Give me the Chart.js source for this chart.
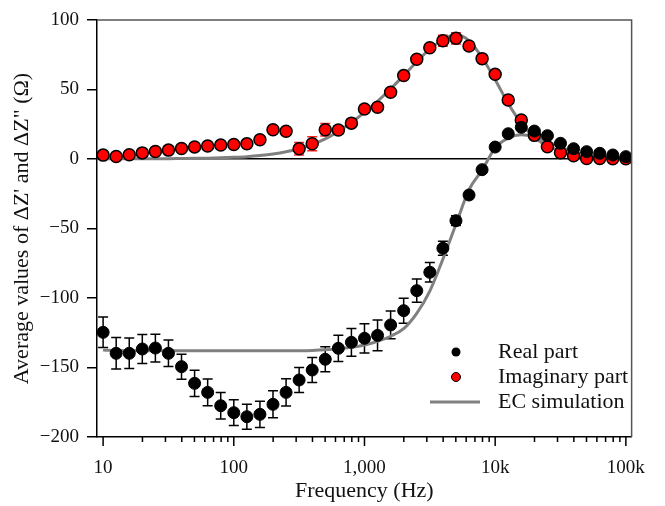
<!DOCTYPE html>
<html>
<head>
<meta charset="utf-8">
<script src="https://cdn.jsdelivr.net/npm/chart.js@4/dist/chart.umd.min.js"></script>
<style>
  html, body { margin: 0; padding: 0; background: #fff; }
  #wrap { width: 665px; height: 506px; }
</style>
</head>
<body>
<div id="wrap"><canvas id="chart" width="665" height="506"></canvas></div>
<script>
// frequencies (Hz), 10 points per decade
const freqs = [10, 12.59, 15.85, 19.95, 25.12, 31.62, 39.81, 50.12, 63.1, 79.43,
    100, 125.9, 158.5, 199.5, 251.2, 316.2, 398.1, 501.2, 631, 794.3,
    1000, 1259, 1585, 1995, 2512, 3162, 3981, 5012, 6310, 7943,
    10000, 12589, 15849, 19953, 25119, 31623, 39811, 50119, 63096, 79433, 100000];

const realVals = [-124.7, -139.8, -139.8, -136.7, -136, -139.8, -149.4, -161.4, -167.9, -177.5,
    -182.5, -185.4, -183.7, -176.5, -167.9, -159, -151.8, -144.1, -136.2, -131.9,
    -129, -126.9, -119.4, -109.1, -94.7, -81.5, -64.2, -44.4, -25.9, -7.7,
    8.6, 18.2, 22.8, 20.1, 16.8, 11.3, 7.4, 5.3, 4.1, 2.9, 1.7];
const realErr = [11, 11.3, 11, 10.5, 10, 9.5, 9, 9.5, 9.6, 9.5,
    9.3, 9, 9.5, 9.7, 9.8, 9, 9, 9, 9.4, 10,
    10.5, 11, 10, 9, 8.4, 7, 5, 3.5, 2, 1.5,
    1, 1, 1, 1, 1, 1, 1, 1, 1, 1, 1];

const imagVals = [2.8, 1.8, 3, 4.4, 5.4, 6.4, 7.5, 8.7, 9.3, 10,
    10.4, 10.9, 13.9, 21, 20, 7.4, 11, 21.1, 20.9, 25.8,
    36, 37.2, 48, 60, 71.7, 80, 85.1, 86.8, 81.3, 72.2,
    60.9, 42.4, 28, 17, 8.8, 4.5, 2.4, 0.4, 0.3, 0.2, 0.2];
const imagErr = [1.2, 1.2, 1.2, 1.2, 1.2, 1.2, 1.2, 1.2, 1.2, 1.2,
    1.2, 1.2, 1.5, 2.5, 2.5, 4.5, 5, 4.5, 3, 2,
    2, 2.5, 2, 1.5, 1.5, 2, 4, 4, 2.5, 1.5,
    1.5, 1.5, 1.5, 1.5, 1, 1, 1, 1, 1, 1, 1];

// EC simulation curves at the same frequencies
const simReal = [-137.5, -137.8, -138, -138, -138, -138, -138, -138, -138, -138,
    -138, -138, -138, -138, -138, -137.9, -137.7, -137.3, -136.6, -135.5,
    -133.8, -131.2, -127.5, -122, -111, -95, -72, -47, -22, -8,
    8, 15, 17.5, 16, 12.5, 8.5, 5.3, 3.2, 1.8, 1, 0.5];
const simImag = [0.1, 0.1, 0.1, 0.15, 0.2, 0.25, 0.35, 0.45, 0.6, 0.85,
    1.2, 1.7, 2.5, 3.6, 5.2, 7.4, 10.5, 14.5, 19.8, 26.2,
    33.5, 41.5, 50.5, 60, 70, 79, 85.8, 89.5, 85, 73,
    57, 40, 25.7, 15.5, 9.5, 6, 3.8, 2.2, 1.2, 0.6, 0.3];

const xMajorTicks = [10, 100, 1000, 10000, 100000];
const xMajorLabels = ["10", "100", "1,000", "10k", "100k"];
const xMinorSteps = [2, 3, 4, 5, 6, 7, 8, 9];
const legendLabels = ["Real part", "Imaginary part", "EC simulation"];

const serif = "'Liberation Serif', 'Times New Roman', serif";

function points(vals) {
    return vals.map((v, i) => ({ x: freqs[i], y: v }));
}

// vertical error bars with caps, drawn through the chart scales
const errorBars = {
    id: "errorBars",
    beforeDatasetsDraw(chart) {
        const { ctx, scales: { x, y } } = chart;
        const sets = [[imagVals, imagErr, "#ff2020"], [realVals, realErr, "#000"]];
        ctx.save();
        ctx.lineWidth = 1.5;
        sets.forEach(([vals, errs, color]) => {
            ctx.strokeStyle = color;
            vals.forEach((v, i) => {
                const px = x.getPixelForValue(freqs[i]);
                const top = y.getPixelForValue(v + errs[i]);
                const bot = y.getPixelForValue(v - errs[i]);
                ctx.beginPath();
                ctx.moveTo(px, top); ctx.lineTo(px, bot);
                ctx.moveTo(px - 5, top); ctx.lineTo(px + 5, top);
                ctx.moveTo(px - 5, bot); ctx.lineTo(px + 5, bot);
                ctx.stroke();
            });
        });
        ctx.restore();
    }
};

// frame, x tick marks (long for decades, short for minor), legend
const decorations = {
    id: "decorations",
    afterDraw(chart) {
        const { ctx, chartArea: a, scales: { x } } = chart;
        ctx.save();
        ctx.strokeStyle = "#555";
        ctx.lineWidth = 1.5;
        ctx.beginPath();
        ctx.moveTo(a.left, a.top); ctx.lineTo(a.right, a.top); ctx.lineTo(a.right, a.bottom);
        ctx.stroke();

        ctx.strokeStyle = "#000";
        ctx.lineWidth = 1.5;
        x.ticks.forEach((t) => {
            const px = x.getPixelForValue(t.value);
            const len = xMajorTicks.includes(t.value) ? 9 : 5;
            ctx.beginPath();
            ctx.moveTo(px, a.bottom); ctx.lineTo(px, a.bottom + len);
            ctx.stroke();
        });

        // legend
        const rows = [352, 377, 402];
        const mx = 456;
        ctx.fillStyle = "#000";
        ctx.beginPath(); ctx.arc(mx, rows[0], 4.5, 0, Math.PI * 2); ctx.fill();
        ctx.fillStyle = "#ff0000";
        ctx.strokeStyle = "#000";
        ctx.lineWidth = 1;
        ctx.beginPath(); ctx.arc(mx, rows[1], 4.5, 0, Math.PI * 2); ctx.fill(); ctx.stroke();
        ctx.strokeStyle = "#808080";
        ctx.lineWidth = 3;
        ctx.beginPath(); ctx.moveTo(430, rows[2]); ctx.lineTo(480, rows[2]); ctx.stroke();

        ctx.fillStyle = "#111";
        ctx.font = "22px " + serif;
        ctx.textBaseline = "middle";
        ctx.textAlign = "left";
        legendLabels.forEach((s, i) => ctx.fillText(s, 498, rows[i]));
        ctx.restore();
    }
};

new Chart(document.getElementById("chart"), {
    type: "scatter",
    data: {
        datasets: [
            {
                label: legendLabels[0],
                data: points(realVals),
                pointRadius: 6,
                pointBackgroundColor: "#000",
                pointBorderColor: "#000",
                pointBorderWidth: 1,
                order: 0
            },
            {
                label: legendLabels[1],
                data: points(imagVals),
                pointRadius: 6,
                pointBackgroundColor: "#ff0000",
                pointBorderColor: "#000",
                pointBorderWidth: 1.5,
                order: 1
            },
            {
                label: legendLabels[2],
                data: points(simReal),
                showLine: true,
                pointRadius: 0,
                borderColor: "#808080",
                borderWidth: 3,
                cubicInterpolationMode: "monotone",
                order: 2
            },
            {
                label: legendLabels[2],
                data: points(simImag),
                showLine: true,
                pointRadius: 0,
                borderColor: "#808080",
                borderWidth: 3,
                cubicInterpolationMode: "monotone",
                order: 2
            }
        ]
    },
    options: {
        responsive: false,
        animation: false,
        events: [],
        layout: { padding: { top: 20, right: 14, left: 0, bottom: 0 } },
        plugins: {
            legend: { display: false },
            tooltip: { enabled: false }
        },
        scales: {
            x: {
                type: "logarithmic",
                min: 8.98,
                max: 110700,
                afterFit(scale) { scale.height = 69; },
                afterBuildTicks(scale) {
                    const ticks = [];
                    xMajorTicks.forEach((d) => {
                        ticks.push({ value: d });
                        if (d < 100000) xMinorSteps.forEach((m) => ticks.push({ value: d * m }));
                    });
                    scale.ticks = ticks;
                },
                border: { display: true, color: "#000", width: 1.5 },
                grid: { display: true, drawOnChartArea: false, drawTicks: false },
                ticks: {
                    autoSkip: false,
                    maxRotation: 0,
                    padding: 20,
                    color: "#111",
                    font: { family: serif, size: 19 },
                    callback: (v) => {
                        const i = xMajorTicks.indexOf(v);
                        return i >= 0 ? xMajorLabels[i] : "";
                    }
                },
                title: {
                    display: true,
                    text: "Frequency (Hz)",
                    color: "#111",
                    font: { family: serif, size: 22 },
                    padding: { top: 0, bottom: 2 }
                }
            },
            y: {
                min: -200,
                max: 100,
                afterFit(scale) { scale.width = 97; },
                border: { display: true, color: "#000", width: 1.5 },
                grid: {
                    drawOnChartArea: true,
                    color: (c) => (c.tick && c.tick.value === 0 ? "#000" : "rgba(0,0,0,0)"),
                    lineWidth: 1.5,
                    tickColor: "#000",
                    tickWidth: 1.5,
                    tickLength: 10
                },
                ticks: {
                    stepSize: 50,
                    padding: 8,
                    color: "#111",
                    font: { family: serif, size: 19 },
                    callback: (v) => (v < 0 ? "\u2212" + Math.abs(v) : String(v))
                },
                title: {
                    display: true,
                    text: "Average values of \u0394Z' and \u0394Z\" (\u03A9)",
                    color: "#111",
                    font: { family: serif, size: 22 },
                    padding: { top: 9, bottom: 0 }
                }
            }
        }
    },
    plugins: [errorBars, decorations]
});
</script>
</body>
</html>
